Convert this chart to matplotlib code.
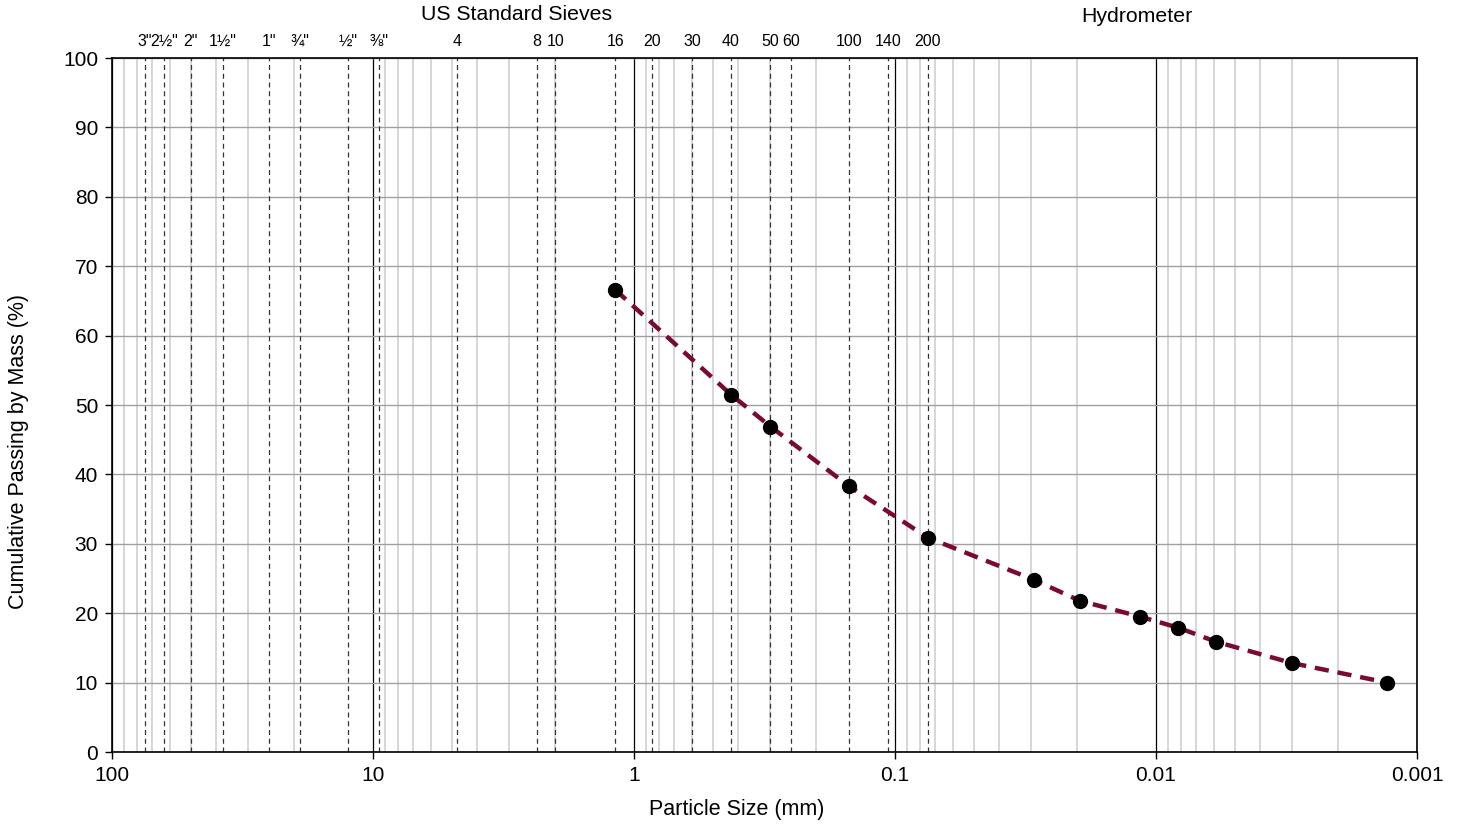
"""
Particle size distribution (sieve + hydrometer), log x-axis reversed.
"""
import matplotlib
matplotlib.use("Agg")
import matplotlib.pyplot as plt
from matplotlib.ticker import FixedLocator, NullFormatter

plt.rcParams["font.family"] = ["Liberation Sans", "DejaVu Sans"]

# measured data
sizes_mm = [1.18, 0.425, 0.30, 0.15, 0.075, 0.0293, 0.0196, 0.0115,
            0.0082, 0.0059, 0.0030, 0.0013]
passing_pct = [66.6, 51.5, 46.9, 38.3, 30.9, 24.8, 21.8, 19.5,
               17.9, 15.9, 12.8, 10.0]

# US standard sieve openings (mm) and labels
sieve_mm = [75, 63, 50, 37.5, 25, 19, 12.5, 9.5, 4.75, 2.36, 2.0, 1.18,
            0.85, 0.6, 0.425, 0.3, 0.25, 0.15, 0.106, 0.075]
sieve_labels = ['3"', '2½"', '2"', '1½"', '1"', '¾"', '½"', '⅜"', "4", "8",
                "10", "16", "20", "30", "40", "50", "60", "100", "140", "200"]

LINE_COLOR = "#7a0a30"
W, H = 1460, 824

fig = plt.figure(figsize=(W / 100, H / 100), dpi=100)
ax = fig.add_axes([112 / W, 1 - 752 / H, 1305 / W, 694 / H])

ax.set_xscale("log")
ax.set_xlim(100, 0.001)
ax.set_ylim(0, 100)

# grid
minor = [m * 10.0 ** e for e in range(-3, 2) for m in range(2, 10)]
ax.xaxis.set_minor_locator(FixedLocator(minor))
ax.xaxis.set_minor_formatter(NullFormatter())
ax.set_xticks([100, 10, 1, 0.1, 0.01, 0.001])
ax.set_xticklabels(["100", "10", "1", "0.1", "0.01", "0.001"])
ax.set_yticks(range(0, 101, 10))
ax.grid(True, which="minor", axis="x", color="#cccccc", lw=1.1)
ax.grid(True, which="major", axis="x", color="black", lw=0.9)
ax.grid(True, which="major", axis="y", color="#a0a0a0", lw=1.0)
ax.set_axisbelow(True)
ax.tick_params(which="minor", length=0)
ax.tick_params(which="major", direction="out", length=5, width=1,
               labelsize=15, pad=5)
for sp in ax.spines.values():
    sp.set_linewidth(1.2)

# sieve lines and labels
for s, lab in zip(sieve_mm, sieve_labels):
    ax.axvline(s, color="#333333", lw=0.9, ls=(0, (4, 3)), zorder=1.5)
    ax.text(s, 1.024, lab, transform=ax.get_xaxis_transform(),
            ha="center", va="center", fontsize=11.5)

ax.text(517 / W, 1 - 15 / H, "US Standard Sieves", transform=fig.transFigure,
        ha="center", va="center", fontsize=15.3)
ax.text(1137 / W, 1 - 17 / H, "Hydrometer", transform=fig.transFigure,
        ha="center", va="center", fontsize=15.3)

# data
ax.plot(sizes_mm, passing_pct, color=LINE_COLOR, lw=3.2,
        dashes=(3.2, 2.0), zorder=3)
ax.plot(sizes_mm, passing_pct, "o", color="black", ms=10, zorder=4)

ax.set_xlabel("Particle Size (mm)", fontsize=15.5)
ax.set_ylabel("Cumulative Passing by Mass (%)", fontsize=15.5)
ax.xaxis.set_label_coords((737 - 112) / 1305, -(810 - 752) / 694)
ax.yaxis.set_label_coords(-(112 - 19) / 1305, (752 - 451) / 694)
ax.xaxis.label.set_va("center")
ax.yaxis.label.set_va("center")

fig.savefig("out.png", dpi=100)
